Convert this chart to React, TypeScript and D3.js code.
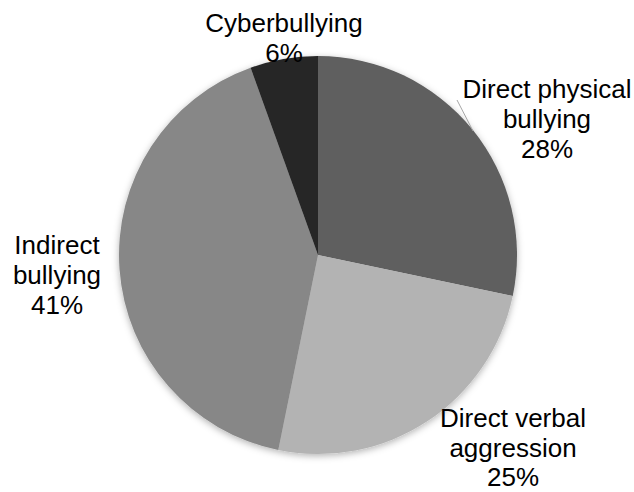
import React from "react";
import * as d3 from "d3";

const categories = ["Direct physical bullying", "Direct verbal aggression", "Indirect bullying", "Cyberbullying"];
const values = [28.3, 24.9, 41.3, 5.5];
const percentLabels = ["28%", "25%", "41%", "6%"];
const labelLines = [["Direct physical", "bullying"], ["Direct verbal", "aggression"], ["Indirect", "bullying"], ["Cyberbullying"]];
const colors = ["#5e5e5e", "#b3b3b3", "#878787", "#262626"];
// label anchor positions (center x, first baseline y, line spacing)
const labelPos: [number, number, number][] = [[547, 97.5, 30], [513, 427, 29.5], [57, 253.5, 30], [284, 32, 30]];

export default function App() {
  const width = 634, height = 492;
  const cx = 318, cy = 255, r = 199;
  const pie = d3.pie<number>().sort(null).value((d) => d)(values);
  const arc = d3.arc<d3.PieArcDatum<number>>().innerRadius(0).outerRadius(r);
  return (
    <svg width={width} height={height} style={{ position: "absolute", left: 0, top: 0 }}
      fontFamily="'Liberation Sans', Arial, sans-serif">
      <defs>
        <filter id="sh" x="-20%" y="-20%" width="140%" height="140%">
          <feDropShadow dx="0" dy="2" stdDeviation="3.5" floodColor="#000" floodOpacity="0.3" />
        </filter>
      </defs>
      <g transform={`translate(${cx},${cy})`} filter="url(#sh)">
        {pie.map((p, i) => (
          <path key={i} d={arc(p) || ""} fill={colors[i]} />
        ))}
      </g>
      <line x1={457} y1={100} x2={473} y2={131} stroke="#a6a6a6" strokeWidth={1} />
      {categories.map((c, i) => {
        const [x, y, lh] = labelPos[i];
        const lines = [...labelLines[i], percentLabels[i]];
        return (
          <text key={c} x={x} y={y} textAnchor="middle" fontSize={26} fill="#000">
            {lines.map((l, j) => (
              <tspan key={j} x={x} y={y + j * lh}>{l}</tspan>
            ))}
          </text>
        );
      })}
    </svg>
  );
}
